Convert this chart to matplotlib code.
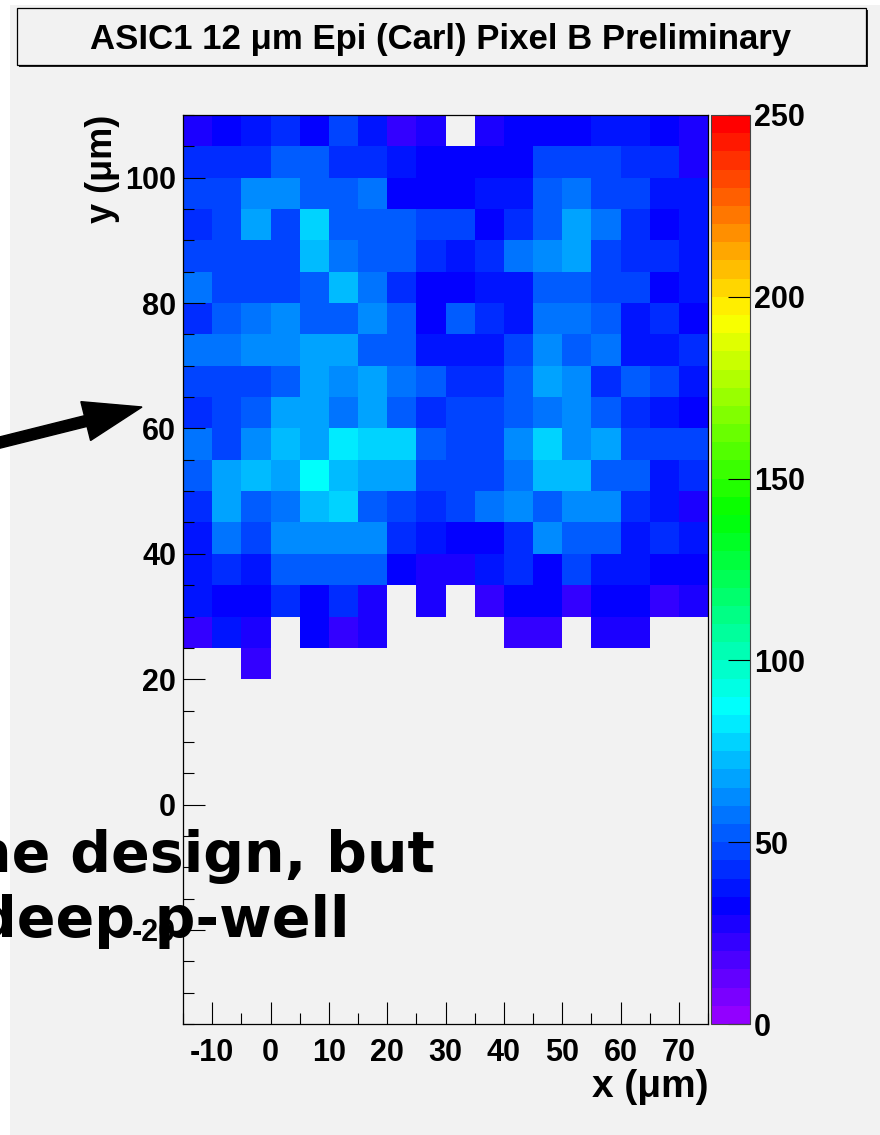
import colorsys

import matplotlib
matplotlib.use("Agg")
import matplotlib.pyplot as plt
from matplotlib.colors import ListedColormap, BoundaryNorm
from matplotlib.patches import Rectangle, FancyArrow
from matplotlib.ticker import MultipleLocator
import numpy as np

W, H = 880, 1135

# bin edges (um)
x_edges = np.arange(-15, 80, 5)
y_edges = np.arange(110, 15, -5)  # top row first

# counts per bin, rows from y=105-110 down to y=20-25, 0 = empty
counts = [
    [27, 32, 37, 42, 32, 47, 37, 22, 27, 0, 27, 32, 32, 32, 37, 37, 32, 27],
    [42, 42, 42, 52, 52, 42, 42, 37, 32, 32, 32, 32, 47, 47, 47, 42, 42, 27],
    [47, 47, 62, 62, 52, 52, 57, 32, 32, 32, 37, 37, 52, 57, 47, 47, 37, 37],
    [42, 47, 67, 47, 77, 52, 52, 52, 47, 47, 32, 42, 52, 67, 57, 42, 32, 37],
    [47, 47, 47, 47, 72, 57, 52, 52, 42, 37, 42, 57, 62, 67, 47, 42, 42, 37],
    [57, 47, 47, 47, 52, 72, 57, 42, 32, 32, 37, 37, 52, 52, 47, 47, 32, 37],
    [42, 52, 57, 62, 52, 52, 62, 52, 32, 52, 42, 37, 57, 57, 52, 37, 42, 32],
    [57, 57, 62, 62, 67, 67, 52, 52, 37, 37, 37, 47, 62, 52, 57, 37, 37, 42],
    [47, 47, 47, 52, 67, 62, 67, 57, 52, 42, 42, 52, 67, 62, 42, 52, 47, 37],
    [42, 47, 52, 67, 67, 57, 67, 52, 42, 47, 47, 52, 57, 62, 52, 42, 37, 32],
    [57, 47, 62, 72, 67, 82, 77, 77, 52, 47, 47, 62, 77, 62, 67, 47, 47, 47],
    [52, 67, 72, 67, 87, 72, 67, 67, 47, 47, 47, 57, 72, 72, 52, 52, 37, 42],
    [42, 67, 52, 57, 72, 77, 52, 47, 42, 47, 57, 62, 52, 62, 62, 42, 37, 27],
    [37, 57, 47, 62, 62, 62, 62, 42, 37, 32, 32, 42, 62, 52, 52, 37, 42, 37],
    [37, 42, 37, 52, 52, 52, 52, 32, 27, 27, 37, 42, 32, 47, 37, 37, 32, 32],
    [37, 32, 32, 42, 32, 42, 27, 0, 27, 0, 22, 32, 32, 22, 32, 32, 22, 27],
    [22, 37, 27, 0, 32, 22, 27, 0, 0, 0, 0, 22, 22, 0, 27, 27, 0, 0],
    [0, 0, 22, 0, 0, 0, 0, 0, 0, 0, 0, 0, 0, 0, 0, 0, 0, 0],
]
z_ticks = [0, 50, 100, 150, 200, 250]

title = "ASIC1 12 \u03bcm Epi (Carl) Pixel B Preliminary"
slide_lines = ["ne design, but", "deep p-well"]

plt.rcParams["font.family"] = ["Liberation Sans", "DejaVu Sans"]
plt.rcParams["font.weight"] = "bold"
plt.rcParams["axes.unicode_minus"] = False

BG = "#f2f2f2"

# ROOT "pretty" palette, 50 colours violet -> red
pal = [colorsys.hls_to_rgb((280 - (i + 1) * 5.6) / 360.0, 0.5, 1.0) for i in range(50)]
cmap = ListedColormap(pal)
norm = BoundaryNorm(np.arange(0, 255, 5), cmap.N)


def rect(x0, y0, x1, y1):
    return [x0 / W, 1 - y1 / H, (x1 - x0) / W, (y1 - y0) / H]


fig = plt.figure(figsize=(W / 100, H / 100), dpi=100, facecolor="white")
fig.add_artist(Rectangle((10 / W, 0), 1, 1 - 5 / H, transform=fig.transFigure,
                         facecolor=BG, edgecolor="none", zorder=-10))

ax = fig.add_axes(rect(183, 115, 708, 1024))
ax.set_facecolor(BG)
z = np.ma.masked_equal(np.array(counts, dtype=float), 0)
mesh = ax.pcolormesh(x_edges, y_edges, z, cmap=cmap, norm=norm, edgecolors="none")
ax.set_xlim(-15, 75)
ax.set_ylim(-35, 110)
ax.xaxis.set_major_locator(MultipleLocator(10))
ax.xaxis.set_minor_locator(MultipleLocator(5))
ax.yaxis.set_major_locator(MultipleLocator(20))
ax.yaxis.set_minor_locator(MultipleLocator(5))
ax.tick_params(which="both", direction="in", top=False, right=False, width=0.8, colors="black")
ax.tick_params(which="major", length=16)
ax.tick_params(which="minor", length=8)
ax.tick_params(axis="x", labelsize=22, pad=10)
ax.tick_params(axis="y", labelsize=22, pad=5)
for s in ax.spines.values():
    s.set_linewidth(0.9)

cax = fig.add_axes(rect(711, 115, 750, 1024))
cb = fig.colorbar(mesh, cax=cax, ticks=z_ticks)
cb.minorticks_off()
cb.outline.set_linewidth(0.8)
cb.outline.set_edgecolor("#444444")
cax.tick_params(direction="in", length=16, width=0.8, labelsize=22, pad=3)

# overlay in pixel coordinates
ov = fig.add_axes([0, 0, 1, 1], zorder=10)
ov.set_xlim(0, W)
ov.set_ylim(H, 0)
ov.axis("off")
ov.patch.set_alpha(0)

ov.add_patch(Rectangle((19, 10), 849, 57, facecolor="#222222", edgecolor="none"))
ov.add_patch(Rectangle((17, 8), 849, 57, facecolor=BG, edgecolor="black", linewidth=0.9))
ov.text(441, 39, title, ha="center", va="center", fontsize=25, fontweight="bold")

ov.text(708, 1097, "x (\u03bcm)", ha="right", va="baseline", fontsize=28, fontweight="bold")
ov.text(103, 115, "y (\u03bcm)", ha="center", va="top", rotation=90, fontsize=26, fontweight="bold")

ov.add_patch(FancyArrow(-20, 447.5, 162, -40.5, width=11, head_width=40, head_length=58,
                        length_includes_head=True, color="black"))

ov.text(435, 872, slide_lines[0], ha="right", va="baseline", fontsize=41,
        fontweight="bold", family="DejaVu Sans")
ov.text(350, 937, slide_lines[1], ha="right", va="baseline", fontsize=41,
        fontweight="bold", family="DejaVu Sans")

fig.savefig("out.png", dpi=100, facecolor=fig.get_facecolor())
